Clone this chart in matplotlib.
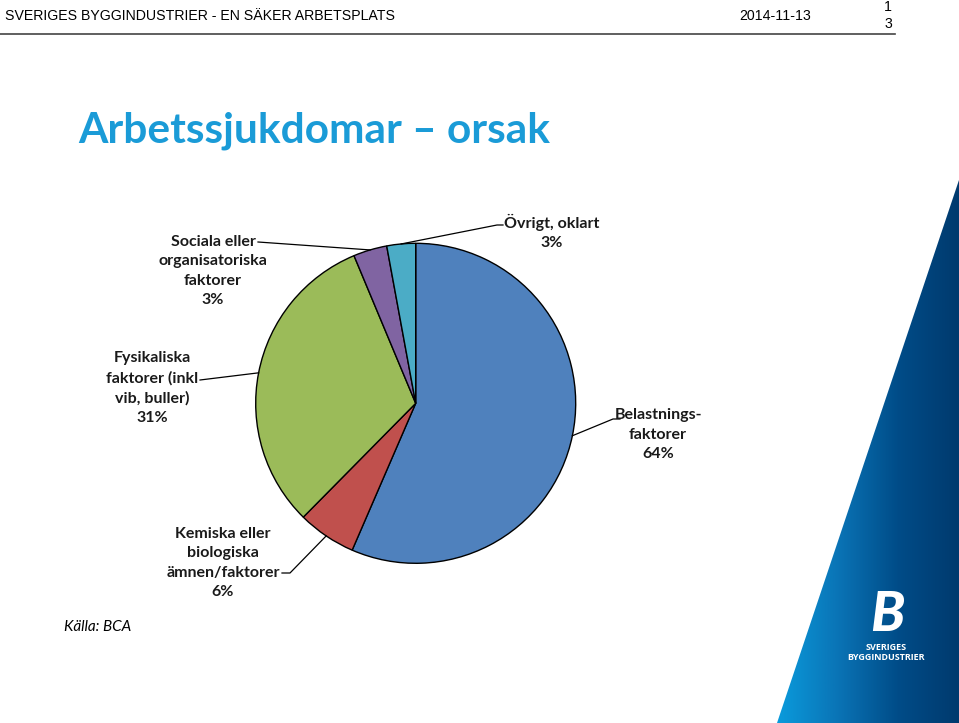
import numpy as np
import matplotlib.pyplot as plt
from matplotlib.patches import Polygon
from matplotlib.colors import LinearSegmentedColormap

W, H = 959, 723

# data (slice sizes, labels as printed)
categories = ['Belastnings-\nfaktorer', 'Kemiska eller\nbiologiska\nämnen/faktorer',
              'Fysikaliska\nfaktorer (inkl\nvib, buller)',
              'Sociala eller\norganisatoriska\nfaktorer', 'Övrigt, oklart']
sizes = [56.5, 5.9, 31.3, 3.4, 2.9]
pct_labels = ['64%', '6%', '31%', '3%', '3%']
colors = ['#4F81BD', '#C0504D', '#9BBB59', '#8064A2', '#4BACC6']

fig = plt.figure(figsize=(W / 100, H / 100), dpi=100)
ax = fig.add_axes([0, 0, 1, 1])

# pie in pixel-like coordinates (y up)
cx, cy, r = 415.7, H - 403.3, 160
wedges, _ = ax.pie(sizes, colors=colors, startangle=90, counterclock=False,
                   center=(cx, cy), radius=r, frame=True,
                   wedgeprops=dict(edgecolor='black', linewidth=1.0))
ax.set_aspect('auto')
ax.axis('off')

# label positions (text center) and leader line points, in pixels from top
label_pos = [(658, 435), (223, 563), (152, 388), (213, 271), (552, 232)]
leaders = [
    [(620, 419), (613, 419), None],
    [(282, 573), (290, 573), None],
    [(200, 380), None],
    [(258, 242), None],
    [(503, 225), (497, 225), None],
]

lab_font = dict(family=['Lato', 'DejaVu Sans'], fontweight='bold', fontsize=11.5)
for i, w in enumerate(wedges):
    ang = np.deg2rad((w.theta1 + w.theta2) / 2)
    ex, ey = cx + r * np.cos(ang), cy + r * np.sin(ang)
    pts = []
    for p in leaders[i]:
        if p is None:
            pts.append((ex, ey))
        else:
            pts.append((p[0], H - p[1]))
    xs, ys = zip(*pts)
    ax.plot(xs, ys, color='black', lw=0.9)
    tx, ty = label_pos[i]
    ax.text(tx, H - ty, categories[i] + '\n' + pct_labels[i], ha='center', va='center',
            linespacing=1.5, color='#1a1a1a', **lab_font)

# header
hdr = dict(family=['Liberation Sans', 'DejaVu Sans'], fontsize=10.2, color='black')
ax.text(5, H - 16, 'SVERIGES BYGGINDUSTRIER - EN SÄKER ARBETSPLATS', va='center', **hdr)
ax.text(775, H - 16, '2014-11-13', va='center', ha='center', **hdr)
ax.text(888, H - 7, '1', va='center', ha='center', **hdr)
ax.text(888, H - 24, '3', va='center', ha='center', **hdr)
ax.plot([0, 895], [H - 34, H - 34], color='#444444', lw=1.2)

# title
ax.text(78, H - 131, 'Arbetssjukdomar – orsak', va='center', ha='left',
        family=['Lato', 'DejaVu Sans'], fontweight='bold', fontsize=30.5, color='#1A9BD7')

ax.text(98, H - 627, 'Källa: BCA', va='center', ha='center', style='italic',
        family=['Lato', 'DejaVu Sans'], fontsize=11, color='black')

# blue gradient corner
grad = np.linspace(0, 1, 256).reshape(1, -1)
cmap = LinearSegmentedColormap.from_list('sb', ['#0A9BDC', '#0A74B6', '#004C88', '#003A6E'])
tri = Polygon([(959, H - 180), (777, 0), (959, 0)], closed=True, transform=ax.transData,
              facecolor='none', edgecolor='none')
ax.add_patch(tri)
im = ax.imshow(grad, cmap=cmap, extent=[777, 959, 0, H - 180], aspect='auto', zorder=0)
im.set_clip_path(tri)
ax.set_xlim(0, W)
ax.set_ylim(0, H)

# logo
ax.text(887, H - 615, 'B', ha='center', va='center', color='white', style='italic',
        family=['Lato', 'DejaVu Sans'], fontweight='black', fontsize=40)
ax.text(886, H - 647, 'SVERIGES', ha='center', va='center', color='white',
        family=['Open Sans', 'DejaVu Sans'], fontweight='bold', fontsize=6.5)
ax.text(886, H - 658, 'BYGGINDUSTRIER', ha='center', va='center', color='white',
        family=['Open Sans', 'DejaVu Sans'], fontweight='bold', fontsize=6.5)

fig.savefig('out.png', dpi=100)
